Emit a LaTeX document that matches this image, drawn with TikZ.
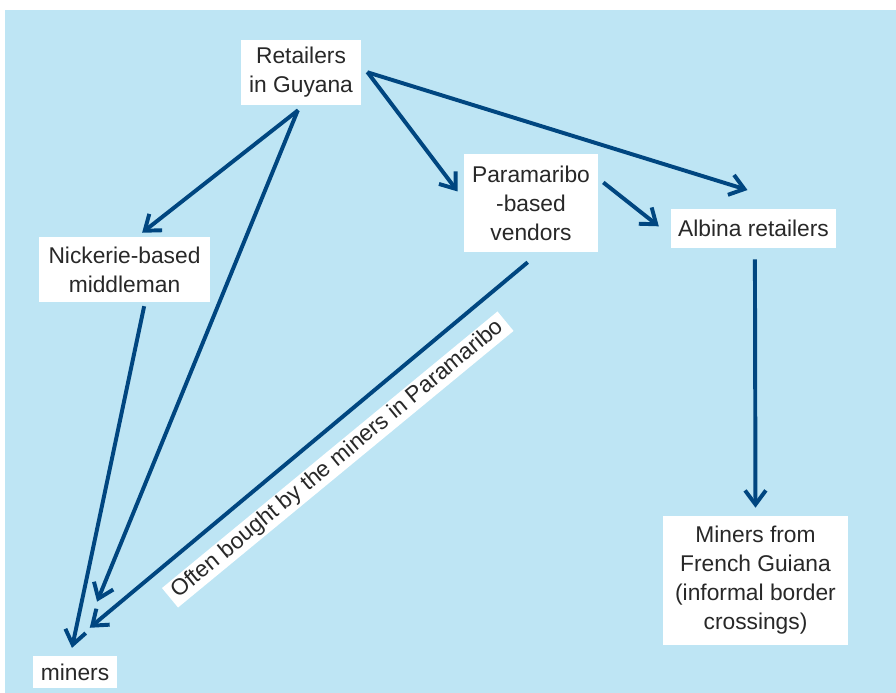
\documentclass[tikz,border=0pt]{standalone}
\usepackage{fontspec}
\setmainfont{Liberation Sans}
\usepackage{tikz}
\usetikzlibrary{arrows.meta,positioning}
\definecolor{skybg}{RGB}{190,229,244}
\definecolor{flowblue}{RGB}{0,70,128}
\definecolor{inkgray}{RGB}{40,40,40}

\begin{document}
\begin{tikzpicture}[
  every node/.style={font=\fontsize{16.2}{20.6}\selectfont, text=inkgray},
  box/.style={fill=white, align=center, inner sep=0pt},
  slant/.style={fill=white, inner xsep=0.15cm, inner ysep=0.05cm},
  arrow/.style={-{Straight Barb[length=3.5mm, width=5.2mm]}, line width=2.8pt, draw=flowblue},
]

%% ── Canvas ───────────────────────────────────────────────────────────────────
\useasboundingbox (0,0) rectangle (22.4,17.325);
\fill[skybg] (0.125,0) rectangle (22.4,17.075);

%% ── Sellers ──────────────────────────────────────────────────────────────────
\node[box, minimum width=3.0cm, minimum height=1.625cm]  (retail) at (7.525, 15.5125) {Retailers\\in Guyana};
\node[box, minimum width=4.275cm, minimum height=1.625cm] (nick)  at (3.1125, 10.5875) {Nickerie-based\\middleman};
\node[box, minimum width=3.35cm, minimum height=2.45cm]  (para)   at (13.275, 12.25) {Paramaribo\\-based\\vendors};
\node[box, minimum width=4.125cm, minimum height=0.975cm] (albina) at (18.8375, 11.6125) {Albina retailers};

%% ── Buyers ───────────────────────────────────────────────────────────────────
\node[box, minimum width=2.1cm, minimum height=0.8cm]    (miners) at (1.875, 0.525) {miners};
\node[box, minimum width=4.625cm, minimum height=3.225cm] (mfg)   at (18.8875, 2.8125)
  {Miners from\\French Guiana\\(informal border\\crossings)};

%% ── Arrows ───────────────────────────────────────────────────────────────────
% Guyana → others
\draw[arrow, shorten <=0.2cm, shorten >=0.16cm] (retail.-84) -- (nick.69);
\draw[arrow, shorten <=0.135cm, shorten >=1.46cm] (retail.-92) -- (miners.north);
\draw[arrow, shorten <=0.25cm, shorten >=0.25cm] (retail.8) -- (para.177);
\draw[arrow, shorten <=0.16cm, shorten >=1.58cm] (retail.2) -- (albina.20);

% Paramaribo → Albina
\draw[arrow, shorten <=0.16cm, shorten >=0.38cm] (para.20) -- (albina.185);

% down to the miners
\draw[arrow, shorten <=0.1cm, shorten >=0.2cm] (nick.-58) -- (miners.106);
\draw[arrow, shorten <=0.39cm, shorten >=1.09cm] (para.-80) -- (miners.139);
\draw[arrow, shorten <=0.275cm, shorten >=0.2cm] (albina.-86) -- (mfg.north);

%% ── Slanted label ────────────────────────────────────────────────────────────
\node[slant, rotate=39.5] (boughtlbl) at (8.444, 5.8375) {Often bought by the miners in Paramaribo};

\end{tikzpicture}
\end{document}
